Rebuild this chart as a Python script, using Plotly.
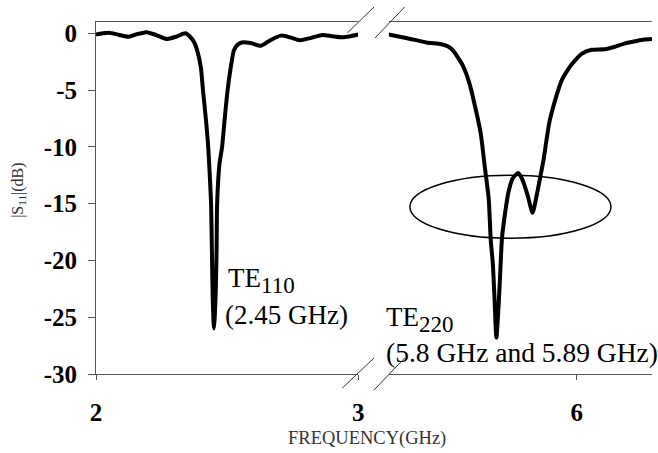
import plotly.graph_objects as go

# Return loss |S11| around the TE110 resonance (2-3 GHz band)
low_freq = [2.000, 2.025, 2.049, 2.085, 2.125, 2.160, 2.193, 2.230, 2.269, 2.305,
            2.341, 2.359, 2.375, 2.386, 2.400, 2.408, 2.421, 2.428, 2.434, 2.439,
            2.442, 2.445, 2.448, 2.450, 2.453, 2.457, 2.460, 2.462, 2.471, 2.481,
            2.491, 2.502, 2.514, 2.526, 2.540, 2.556, 2.590, 2.629, 2.665, 2.705,
            2.740, 2.777, 2.820, 2.864, 2.900, 2.939, 2.970, 3.000]
low_s11 = [-0.10, 0.00, 0.05, -0.12, -0.30, -0.05, 0.10, -0.15, -0.50, -0.30,
           0.00, -0.30, -0.80, -1.50, -3.00, -5.00, -8.00, -10.0, -12.5, -15.0,
           -19.0, -23.0, -25.3, -26.0, -25.0, -22.5, -19.0, -15.0, -11.5, -10.0,
           -7.5, -5.0, -3.0, -1.5, -1.0, -0.80, -0.85, -1.10, -0.60, -0.20,
           -0.35, -0.60, -0.40, -0.15, -0.25, -0.35, -0.25, -0.10]

# Return loss |S11| around the TE220 resonances (5.5-6.2 GHz band)
high_freq = [5.532, 5.560, 5.584, 5.626, 5.663, 5.680, 5.692, 5.716, 5.733, 5.749,
             5.761, 5.771, 5.781, 5.786, 5.791, 5.795, 5.800, 5.807, 5.811, 5.814,
             5.823, 5.830, 5.840, 5.854, 5.865, 5.878, 5.890, 5.900, 5.910, 5.918,
             5.925, 5.932, 5.946, 5.963, 5.978, 5.988, 6.012, 6.037, 6.069, 6.093,
             6.118, 6.145, 6.167, 6.187]
high_s11 = [-0.10, -0.30, -0.47, -0.80, -0.96, -1.15, -1.50, -2.80, -4.40, -6.75,
            -8.80, -11.7, -14.6, -18.2, -20.2, -23.0, -26.8, -23.0, -20.0, -18.0,
            -15.5, -14.0, -12.8, -12.3, -12.9, -14.3, -15.8, -14.3, -12.5, -11.0,
            -9.3, -7.8, -5.9, -4.1, -3.2, -2.7, -1.8, -1.45, -1.4, -1.2,
            -0.9, -0.7, -0.55, -0.5]

y_ticks = [0, -5, -10, -15, -20, -25, -30]
y_tick_text = ["0", "-5", "-10", "-15", "-20", "-25", "-30"]
low_ticks = [2, 3]
high_ticks = [6]

SERIF = "Liberation Serif, Times New Roman, serif"
AXIS_COLOR = "#555555"

curve_line = dict(color="black", width=4, shape="spline", smoothing=0.6)

fig = go.Figure()
fig.add_trace(go.Scatter(x=low_freq, y=low_s11, mode="lines", xaxis="x", yaxis="y",
                         line=curve_line, showlegend=False))
fig.add_trace(go.Scatter(x=high_freq, y=high_s11, mode="lines", xaxis="x2", yaxis="y",
                         line=curve_line, showlegend=False))

tick_font = dict(family=SERIF, size=25, color="black", weight="bold")
common_x = dict(showline=True, linecolor=AXIS_COLOR, linewidth=1, mirror=True,
                ticks="outside", ticklen=5, tickcolor=AXIS_COLOR, showgrid=False,
                zeroline=False, tickfont=tick_font, anchor="y", ticklabelstandoff=11)

fig.update_layout(
    width=658, height=453,
    margin=dict(l=96, r=0, t=22, b=79),
    paper_bgcolor="white", plot_bgcolor="white",
    font=dict(family=SERIF),
    xaxis=dict(domain=[0, 0.4715], range=[2, 3], tickvals=low_ticks, **common_x),
    xaxis2=dict(domain=[0.5267, 1], range=[5.5326, 6.187], tickvals=high_ticks, **common_x),
    yaxis=dict(range=[-30, 1], tickvals=y_ticks, ticktext=y_tick_text,
               showline=True, linecolor=AXIS_COLOR, linewidth=1, ticks="outside",
               ticklen=7, tickcolor=AXIS_COLOR, showgrid=False, zeroline=False,
               tickfont=tick_font, anchor="x", ticklabelstandoff=6),
)

# Ellipse highlighting the split TE220 resonance
fig.add_shape(type="circle", xref="x2", yref="y", x0=5.585, x1=6.085, y0=-12.5, y1=-18.05,
              line=dict(color="black", width=1.5))

# Axis-break marks (pairs of slashes) on the top and bottom frame lines
def px(x):
    return (x - 96) / 562


def py(y):
    return (374 - y) / 352


for (xa, ya, xb, yb) in [(350, 33, 377, 7), (378, 38, 408, 7),
                         (345, 388, 377, 358), (377, 390, 408, 358)]:
    fig.add_shape(type="line", xref="paper", yref="paper",
                  x0=px(xa), y0=py(ya), x1=px(xb), y1=py(yb),
                  line=dict(color="#333333", width=1))

ann_font = dict(family=SERIF, size=27, color="black")
sub_style = '<span style="font-size:23px">{}</span>'
fig.add_annotation(text="TE<sub>" + sub_style.format("110") + "</sub>", xref="x", yref="y",
                   x=2.497, y=-21.8, xanchor="left", yanchor="middle", showarrow=False,
                   font=ann_font)
fig.add_annotation(text="(2.45 GHz)", xref="x", yref="y", x=2.486, y=-24.8,
                   xanchor="left", yanchor="middle", showarrow=False, font=ann_font)
fig.add_annotation(text="TE<sub>" + sub_style.format("220") + "</sub>", xref="paper", yref="y",
                   x=px(387), y=-25.2, xanchor="left", yanchor="middle", showarrow=False,
                   font=ann_font)
fig.add_annotation(text="(5.8 GHz and 5.89 GHz)", xref="paper", yref="y", x=px(387), y=-28.1,
                   xanchor="left", yanchor="middle", showarrow=False,
                   font=dict(family=SERIF, size=27.5, color="black"))

# Axis titles
fig.add_annotation(text="|S<sub>11</sub>|(dB)", xref="paper", yref="paper",
                   x=px(17), y=py(190), textangle=-90, xanchor="center", yanchor="middle",
                   showarrow=False, font=dict(family=SERIF, size=16, color="#333333"))
fig.add_annotation(text="FREQUENCY(GHz)", xref="paper", yref="paper",
                   x=px(370), y=py(438), xanchor="center", yanchor="middle",
                   showarrow=False, font=dict(family=SERIF, size=18.5, color="#333333"))

fig.write_html("out.html")
